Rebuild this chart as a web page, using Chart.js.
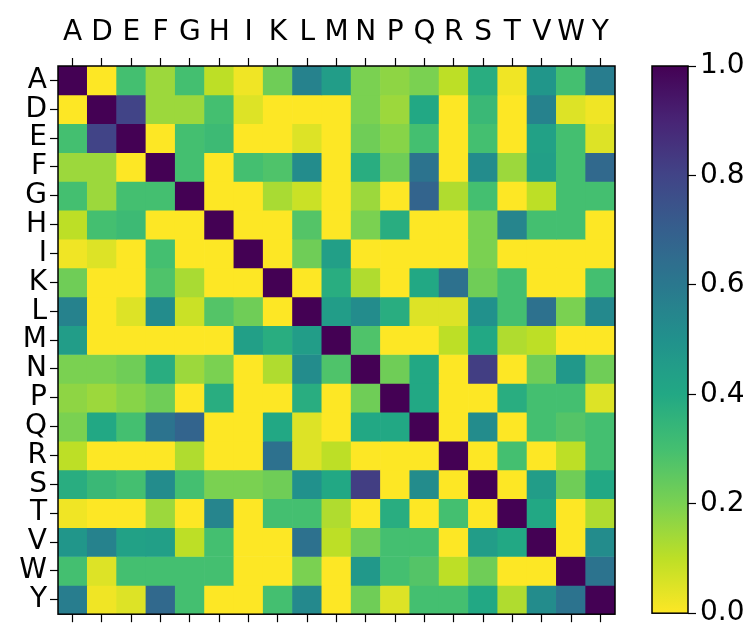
<!DOCTYPE html>
<html>
<head>
<meta charset="utf-8">
<script src="https://cdn.jsdelivr.net/npm/chart.js@4.4.1/dist/chart.umd.min.js"></script>
<style>
  body { margin: 0; background: #fff; }
  #wrap { position: relative; width: 752px; height: 634px; overflow: hidden; }
  #heat { position: absolute; left: 0; top: 0; }
  #bar { position: absolute; left: 630px; top: 0; }
</style>
</head>
<body>
<div id="wrap">
  <canvas id="heat" width="630" height="634"></canvas>
  <canvas id="bar" width="122" height="634"></canvas>
</div>
<script>
// residue labels, same order on both axes
const residues = ['A', 'D', 'E', 'F', 'G', 'H', 'I', 'K', 'L', 'M', 'N', 'P', 'Q', 'R', 'S', 'T', 'V', 'W', 'Y'];

// correlation matrix, one row per residue
const rowA = [1, 0, 0.3, 0.15, 0.3, 0.1, 0.02, 0.22, 0.56, 0.45, 0.2, 0.17, 0.2, 0.1, 0.38, 0.02, 0.48, 0.3, 0.58];
const rowD = [0, 1, 0.8, 0.15, 0.15, 0.3, 0.05, 0, 0, 0, 0.2, 0.15, 0.4, 0, 0.33, 0, 0.56, 0.05, 0.02];
const rowE = [0.3, 0.8, 1, 0, 0.3, 0.32, 0, 0, 0.05, 0, 0.22, 0.18, 0.3, 0, 0.3, 0, 0.43, 0.3, 0.05];
const rowF = [0.15, 0.15, 0, 1, 0.3, 0, 0.3, 0.28, 0.52, 0, 0.38, 0.22, 0.62, 0, 0.52, 0.15, 0.44, 0.3, 0.66];
const rowG = [0.3, 0.15, 0.3, 0.3, 1, 0, 0, 0.13, 0.08, 0, 0.15, 0, 0.68, 0.12, 0.3, 0, 0.1, 0.3, 0.3];
const rowH = [0.1, 0.3, 0.32, 0, 0, 1, 0, 0, 0.27, 0, 0.2, 0.38, 0, 0, 0.2, 0.55, 0.3, 0.3, 0];
const rowI = [0.02, 0.05, 0, 0.3, 0, 0, 1, 0, 0.22, 0.44, 0, 0, 0, 0, 0.2, 0, 0, 0, 0];
const rowK = [0.22, 0, 0, 0.28, 0.13, 0, 0, 1, 0, 0.38, 0.12, 0, 0.4, 0.63, 0.22, 0.3, 0, 0, 0.3];
const rowL = [0.56, 0, 0.05, 0.52, 0.08, 0.27, 0.22, 0, 1, 0.45, 0.52, 0.38, 0.05, 0.05, 0.5, 0.3, 0.63, 0.2, 0.53];
const rowM = [0.45, 0, 0, 0, 0, 0, 0.44, 0.38, 0.45, 1, 0.28, 0, 0, 0.1, 0.4, 0.12, 0.1, 0, 0];
const rowN = [0.2, 0.2, 0.22, 0.38, 0.15, 0.2, 0, 0.12, 0.52, 0.28, 1, 0.22, 0.4, 0, 0.82, 0, 0.22, 0.47, 0.22];
const rowP = [0.17, 0.15, 0.18, 0.22, 0, 0.38, 0, 0, 0.38, 0, 0.22, 1, 0.4, 0, 0, 0.38, 0.3, 0.3, 0.05];
const rowQ = [0.2, 0.4, 0.3, 0.62, 0.68, 0, 0, 0.4, 0.05, 0, 0.4, 0.4, 1, 0, 0.52, 0, 0.3, 0.27, 0.3];
const rowR = [0.1, 0, 0, 0, 0.12, 0, 0, 0.63, 0.05, 0.1, 0, 0, 0, 1, 0, 0.3, 0, 0.1, 0.3];
const rowS = [0.38, 0.33, 0.3, 0.52, 0.3, 0.2, 0.2, 0.22, 0.5, 0.4, 0.82, 0, 0.52, 0, 1, 0, 0.45, 0.22, 0.4];
const rowT = [0.02, 0, 0, 0.15, 0, 0.55, 0, 0.3, 0.3, 0.12, 0, 0.38, 0, 0.3, 0, 1, 0.4, 0, 0.12];
const rowV = [0.48, 0.56, 0.43, 0.44, 0.1, 0.3, 0, 0, 0.63, 0.1, 0.22, 0.3, 0.3, 0, 0.45, 0.4, 1, 0, 0.52];
const rowW = [0.3, 0.05, 0.3, 0.3, 0.3, 0.3, 0, 0, 0.2, 0, 0.47, 0.3, 0.27, 0.1, 0.22, 0, 0, 1, 0.62];
const rowY = [0.58, 0.02, 0.05, 0.66, 0.3, 0, 0, 0.3, 0.53, 0, 0.22, 0.05, 0.3, 0.3, 0.4, 0.12, 0.52, 0.62, 1];

const matrix = [rowA, rowD, rowE, rowF, rowG, rowH, rowI, rowK, rowL, rowM,
                rowN, rowP, rowQ, rowR, rowS, rowT, rowV, rowW, rowY];

// colorbar ticks
const barTicks = [0, 0.2, 0.4, 0.6, 0.8, 1.0];

// viridis key colours, reversed below so that 0 is yellow and 1 is purple
const viridis = ['#440154', '#482475', '#414487', '#355f8d', '#2a788e', '#21918c',
                 '#22a884', '#44bf70', '#7ad151', '#bddf26', '#fde725'];

function hexToRgb(h) {
    return [1, 3, 5].map(i => parseInt(h.substr(i, 2), 16));
}

function colorFor(v) {
    const t = Math.min(1, Math.max(0, 1 - v)) * (viridis.length - 1);
    const i = Math.min(viridis.length - 2, Math.floor(t));
    const f = t - i;
    const a = hexToRgb(viridis[i]);
    const b = hexToRgb(viridis[i + 1]);
    const c = a.map((x, k) => Math.round(x + (b[k] - x) * f));
    return `rgb(${c[0]}, ${c[1]}, ${c[2]})`;
}

Chart.defaults.font.family = "'DejaVu Sans', 'Liberation Sans', sans-serif";
Chart.defaults.color = '#000';

// black frame around the plot area
const framePlugin = {
    id: 'frame',
    afterDraw(chart) {
        const { ctx, chartArea: a } = chart;
        ctx.save();
        ctx.strokeStyle = '#000';
        ctx.lineWidth = 1.5;
        ctx.strokeRect(a.left, a.top, a.right - a.left, a.bottom - a.top);
        ctx.restore();
    }
};

const tickGrid = {
    drawOnChartArea: false,
    offset: false,
    color: '#000',
    tickLength: 8,
    tickWidth: 1.2
};

// heatmap: one stacked dataset per row
const heatDatasets = matrix.map((row, j) => ({
    label: residues[j],
    data: residues.map(() => 1),
    backgroundColor: row.map(colorFor),
    borderWidth: 0,
    barPercentage: 1,
    categoryPercentage: 1,
    xAxisID: 'x',
    yAxisID: 'y'
}));

new Chart(document.getElementById('heat'), {
    type: 'bar',
    data: { labels: residues, datasets: heatDatasets },
    options: {
        responsive: false,
        animation: false,
        devicePixelRatio: 1,
        layout: { padding: { left: 0, right: 15, top: 0, bottom: 0 } },
        plugins: { legend: { display: false }, tooltip: { enabled: false } },
        scales: {
            x: {
                position: 'top',
                stacked: true,
                grid: tickGrid,
                border: { display: false },
                ticks: { font: { size: 28 }, padding: 8, maxRotation: 0, autoSkip: false },
                afterFit(s) { s.height = 66; }
            },
            x2: {
                type: 'category',
                labels: residues,
                position: 'bottom',
                grid: tickGrid,
                border: { display: false },
                ticks: { callback: () => '', autoSkip: false },
                afterFit(s) { s.height = 12; }
            },
            y: {
                type: 'linear',
                stacked: true,
                min: 0,
                max: residues.length,
                reverse: true,
                grid: tickGrid,
                border: { display: false },
                afterBuildTicks(s) {
                    s.ticks = residues.map((r, i) => ({ value: i + 0.5 }));
                },
                ticks: {
                    font: { size: 28 },
                    padding: 3,
                    autoSkip: false,
                    callback: v => residues[Math.floor(v)]
                },
                afterFit(s) { s.width = 58; }
            }
        }
    },
    plugins: [framePlugin]
});

// colorbar: one floating bar filled with the colormap
new Chart(document.getElementById('bar'), {
    type: 'bar',
    data: {
        labels: [''],
        datasets: [{
            data: [[0, 1]],
            borderWidth: 0,
            barPercentage: 1,
            categoryPercentage: 1,
            backgroundColor(ctx) {
                const a = ctx.chart.chartArea;
                if (!a) return '#fff';
                const g = ctx.chart.ctx.createLinearGradient(0, a.bottom, 0, a.top);
                for (let k = 0; k <= 20; k++) {
                    g.addColorStop(k / 20, colorFor(k / 20));
                }
                return g;
            }
        }]
    },
    options: {
        responsive: false,
        animation: false,
        devicePixelRatio: 1,
        layout: { padding: { left: 22, right: 0, top: 66, bottom: 12 } },
        plugins: { legend: { display: false }, tooltip: { enabled: false } },
        scales: {
            x: { display: false },
            y: {
                position: 'right',
                min: 0,
                max: 1,
                grid: tickGrid,
                border: { display: false },
                afterBuildTicks(s) {
                    s.ticks = barTicks.map(v => ({ value: v }));
                },
                ticks: {
                    font: { size: 28 },
                    padding: 4,
                    autoSkip: false,
                    callback: v => v.toFixed(1)
                },
                afterFit(s) { s.width = 64; }
            }
        }
    },
    plugins: [framePlugin]
});
</script>
</body>
</html>
